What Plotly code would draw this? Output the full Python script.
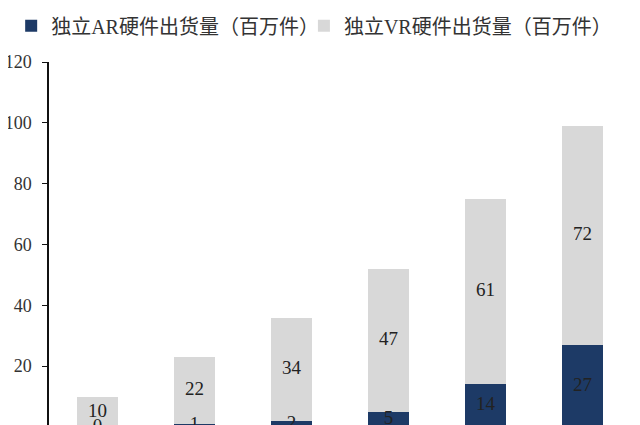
import plotly.graph_objects as go

years = ["2020", "2021", "2022", "2023", "2024", "2025"]
ar_values = [0, 1, 2, 5, 14, 27]
vr_values = [10, 22, 34, 47, 61, 72]
ar_name = "独立AR硬件出货量（百万件）"
vr_name = "独立VR硬件出货量（百万件）"
y_ticks = [0, 20, 40, 60, 80, 100, 120]

AR_COLOR = "#1d3a66"
VR_COLOR = "#d8d8d8"
FONT = "Liberation Serif, Noto Sans CJK SC, serif"

fig = go.Figure()
fig.add_trace(go.Bar(x=years, y=ar_values, name=ar_name, marker_color=AR_COLOR,
                     marker_line_width=0, hoverinfo="skip", legend="legend"))
fig.add_trace(go.Bar(x=years, y=vr_values, name=vr_name, marker_color=VR_COLOR,
                     marker_line_width=0, hoverinfo="skip", legend="legend2"))

ar_mid = [a / 2 for a in ar_values]
vr_mid = [a + v / 2 for a, v in zip(ar_values, vr_values)]
fig.add_trace(go.Scatter(x=years, y=ar_mid, mode="text", text=[str(v) for v in ar_values],
                         textfont=dict(family=FONT, size=19, color="#222"),
                         showlegend=False, hoverinfo="skip", cliponaxis=False))
fig.add_trace(go.Scatter(x=years, y=vr_mid, mode="text", text=[str(v) for v in vr_values],
                         textfont=dict(family=FONT, size=19, color="#222"),
                         showlegend=False, hoverinfo="skip", cliponaxis=False))

legend_common = dict(orientation="h", y=1.099, xanchor="left", yanchor="middle",
                     font=dict(size=20, color="#333"), itemwidth=30,
                     bgcolor="rgba(0,0,0,0)")

fig.update_layout(
    width=640, height=425,
    barmode="stack", bargap=0.58,
    paper_bgcolor="white", plot_bgcolor="white",
    margin=dict(l=41, r=17, t=54, b=6, autoexpand=False),
    font=dict(family=FONT, size=16, color="#222"),
    legend=dict(x=-0.065, **legend_common),
    legend2=dict(x=0.438, **legend_common),
    xaxis=dict(showline=False, showticklabels=False, ticks="", showgrid=False),
    yaxis=dict(range=[0, 120], tickvals=y_ticks, showline=True, linecolor="#111",
               linewidth=1.5, ticks="outside", ticklen=5, tickcolor="#111",
               showgrid=False, zeroline=False, tickfont=dict(size=18, color="#333"),
               ticklabelstandoff=7),
)

fig.write_html("out.html")
